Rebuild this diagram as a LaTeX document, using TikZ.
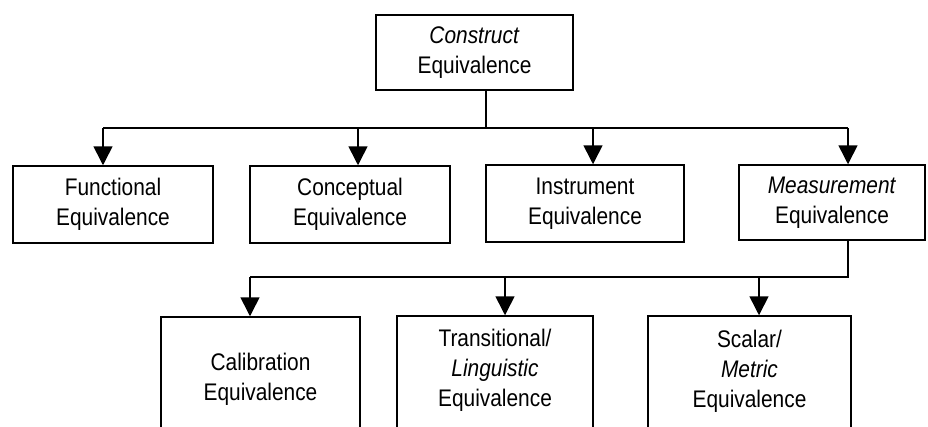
\documentclass[tikz,border=0pt]{standalone}
\usepackage{fontspec}
\setmainfont{Liberation Sans}[FakeStretch=0.87]
\usetikzlibrary{arrows.meta}
\begin{document}
\begin{tikzpicture}[x=1pt,y=-1pt,
  box/.style={draw, line width=1.5pt, rectangle, inner sep=0pt, align=center,
    font=\fontsize{24}{30}\selectfont},
  txt/.style={align=center, inner sep=0pt, font=\fontsize{24}{30}\selectfont},
  link/.style={line width=1.6pt},
  arr/.style={link, -{Triangle[width=19pt,length=19pt]}}]
\useasboundingbox (0,0) rectangle (928,426);
\clip (0,0) rectangle (928,426);

% top level
\node[box, minimum width=197, minimum height=75] (construct) at (474.5,52.5)
  {\textit{Construct}\\Equivalence};

% second level
\node[box, minimum width=200, minimum height=77] (func) at (113,204.5)
  {Functional\\Equivalence};
\node[box, minimum width=200, minimum height=77] (concept) at (350,204.5)
  {Conceptual\\Equivalence};
\node[box, minimum width=198, minimum height=77] (instr) at (585,203.5)
  {Instrument\\Equivalence};
\node[box, minimum width=186, minimum height=75] (measure) at (832,202.5)
  {\textit{Measurement}\\Equivalence};

% third level (boxes run past the lower edge)
\node[box, minimum width=199, minimum height=124] (calib) at (260.5,379)
  {Calibration\\Equivalence};
\node[box, minimum width=196, minimum height=124,
  label={[txt, yshift=8pt]center:Transitional/\\\textit{Linguistic}\\Equivalence}]
  (trans) at (495,378) {};
\node[box, minimum width=203, minimum height=124,
  label={[txt, yshift=7pt]center:Scalar/\\\textit{Metric}\\Equivalence}]
  (scalar) at (749.5,378) {};

% entry points of the arrows
\coordinate (fIn) at ([xshift=-10pt]func.north);
\coordinate (cIn) at ([xshift=8pt]concept.north);
\coordinate (iIn) at ([xshift=8pt]instr.north);
\coordinate (mIn) at ([xshift=16pt]measure.north);
\coordinate (kIn) at ([xshift=-10.5pt]calib.north);
\coordinate (tIn) at ([xshift=10pt]trans.north);
\coordinate (sIn) at ([xshift=9.5pt]scalar.north);

% first bus
\coordinate (bus1) at (486,128);
\draw[link] (construct.south -| bus1) -- (bus1);
\draw[link] (fIn |- bus1) -- (mIn |- bus1);
\draw[arr] (fIn |- bus1) -- (fIn);
\draw[arr] (cIn |- bus1) -- (cIn);
\draw[arr] (iIn |- bus1) -- (iIn);
\draw[arr] (mIn |- bus1) -- (mIn);

% second bus
\coordinate (bus2) at (848,277);
\draw[link, line join=miter] (measure.south -| bus2) -- (bus2) -- (kIn |- bus2);
\draw[arr] (kIn |- bus2) -- (kIn);
\draw[arr] (tIn |- bus2) -- (tIn);
\draw[arr] (sIn |- bus2) -- (sIn);
\end{tikzpicture}
\end{document}
